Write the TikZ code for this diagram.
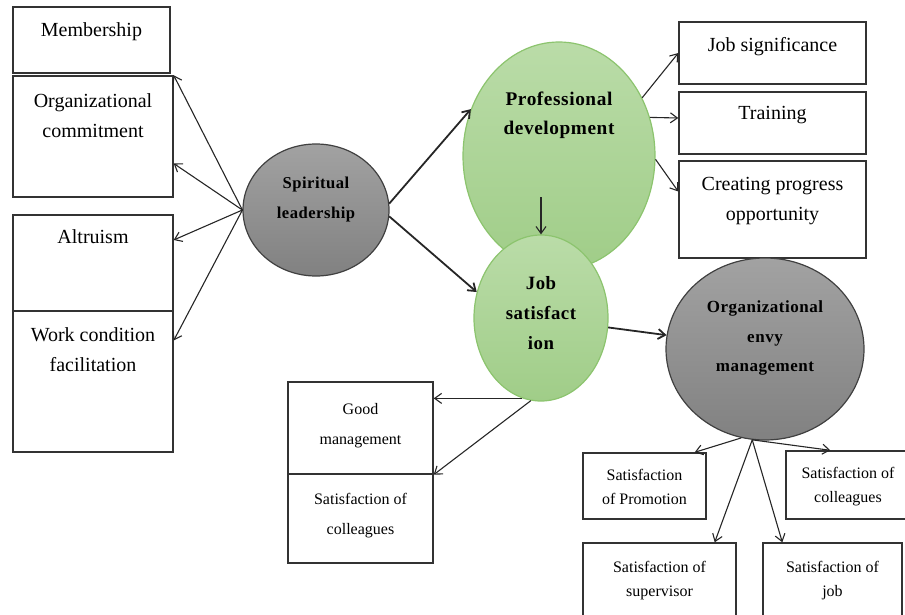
\documentclass[tikz,border=0pt]{standalone}
\usepackage{fontspec}
\setmainfont{Liberation Serif}
\newfontfamily\ellfont[LetterSpace=3]{Liberation Serif}
\usetikzlibrary{shapes.geometric,arrows.meta}

\definecolor{greytop}{HTML}{A2A2A2}
\definecolor{greybot}{HTML}{818181}
\definecolor{greentop}{HTML}{BADCA8}
\definecolor{greenbot}{HTML}{A0CD88}
\definecolor{greenline}{HTML}{8CC46E}

\newcommand\bigtxt{\fontsize{20}{30}\selectfont}
\newcommand\smalltxt{\fontsize{16}{30}\selectfont}
\newcommand\tinytxt{\fontsize{16}{24}\selectfont}

\tikzset{
  box/.style={rectangle, draw=black!80, line width=1.4pt, inner sep=0pt},
  boxtext/.style={anchor=north, inner sep=0pt, align=center, font=\bigtxt},
  smallboxtext/.style={boxtext, font=\smalltxt},
  tinyboxtext/.style={boxtext, font=\tinytxt},
  greyell/.style={ellipse, inner sep=0pt, draw=black!75, line width=1.2pt,
    top color=greytop, bottom color=greybot},
  greenell/.style={ellipse, inner sep=0pt, draw=greenline, line width=1.2pt,
    top color=greentop, bottom color=greenbot},
  elltext/.style={anchor=center, inner sep=0pt, align=center},
  arr/.style={-{Straight Barb[length=7pt,width=10pt]}, line width=1.1pt, draw=black!85},
  arrb/.style={arr, line width=1.8pt}
}

\begin{document}
\begin{tikzpicture}[x=1pt,y=-1pt]
\useasboundingbox (0,0) rectangle (905,615);

% left column
\node[box, minimum width=157, minimum height=66, label={[boxtext, yshift=-16pt]north:Membership}] (memb) at (91.5,40) {};
\node[box, minimum width=160, minimum height=121, label={[boxtext, yshift=-18pt]north:{Organizational\\commitment}}] (orgc) at (93,136.5) {};
\node[box, minimum width=160, minimum height=96, label={[boxtext, yshift=-15pt]north:Altruism}] (altru) at (93,263) {};
\node[box, minimum width=160, minimum height=141, label={[boxtext, yshift=-17pt]north:{Work condition\\facilitation}}] (work) at (93,381.5) {};

% right column
\node[box, minimum width=187, minimum height=62, label={[boxtext, yshift=-16pt]north:Job significance}] (jobsig) at (772.5,53) {};
\node[box, minimum width=187, minimum height=62, label={[boxtext, yshift=-15pt]north:Training}] (train) at (772.5,123) {};
\node[box, minimum width=187, minimum height=97, label={[boxtext, yshift=-17pt]north:{Creating progress\\opportunity}}] (creat) at (772.5,209.5) {};

% bottom left
\node[box, minimum width=145, minimum height=92, label={[smallboxtext, yshift=-22pt]north:{Good\\management}}] (good) at (360.5,428) {};
\node[box, minimum width=145, minimum height=89, label={[smallboxtext, yshift=-20pt]north:{Satisfaction of\\colleagues}}] (colb) at (360.5,518.5) {};

% bottom right
\node[box, minimum width=123, minimum height=66, label={[tinyboxtext, yshift=-17pt]north:{Satisfaction\\of Promotion}}] (promo) at (644.5,486) {};
\node[box, minimum width=124, minimum height=68, label={[tinyboxtext, yshift=-17pt]north:{Satisfaction of\\colleagues}}] (colr) at (848,485) {};
\node[box, minimum width=153, minimum height=97, label={[tinyboxtext, yshift=-19pt]north:{Satisfaction of\\supervisor}}] (sup) at (659.5,591.5) {};
\node[box, minimum width=139, minimum height=97, label={[tinyboxtext, yshift=-19pt]north:{Satisfaction of\\job}}] (jobb) at (832.5,591.5) {};

% ellipses
\node[greyell, minimum width=146, minimum height=132,
  label={[elltext, yshift=10pt, font=\ellfont\bfseries\fontsize{16.6}{30}\selectfont]center:{Spiritual\\leadership}}] (spirit) at (316,210) {};
\node[greenell, minimum width=192, minimum height=228,
  label={[elltext, yshift=41pt, font=\ellfont\bfseries\fontsize{19.3}{29}\selectfont]center:{Professional\\development}}] (prof) at (559,156) {};
\node[greenell, minimum width=134, minimum height=166,
  label={[elltext, yshift=5pt, font=\ellfont\bfseries\fontsize{18.8}{30}\selectfont]center:{Job\\satisfact\\ion}}] (jobsat) at (541,318) {};
\node[greyell, minimum width=198, minimum height=182,
  label={[elltext, yshift=11pt, font=\ellfont\bfseries\fontsize{17}{29.5}\selectfont]center:{Organizational\\envy\\management}}] (envy) at (765,349) {};

% connectors
\draw[arr] (spirit.west) -- (orgc.north east);
\draw[arr] (spirit.west) -- ([yshift=-27pt]orgc.east);
\draw[arr] (spirit.west) -- ([yshift=23pt]altru.east);
\draw[arr] (spirit.west) -- ([yshift=41pt]work.east);

\draw[arrb] (spirit.5) -- (prof.152);
\draw[arrb] (spirit.-5) -- (jobsat.158);

\draw[arr] (prof.35) -- (jobsig.west);
\draw[arr] (prof.23) -- ([yshift=5pt]train.west);
\draw[arr] (prof.-2) -- ([yshift=18pt]creat.west);

\draw[arr] ([yshift=37pt]jobsat.north) -- (jobsat.north);
\draw[arrb] (jobsat.-8) -- (envy.172);

\draw[arr] (jobsat.257) -- (jobsat.257 -| good.east);
\draw[arr] (jobsat.263) -- (good.south east);

\draw[arr] (envy.255) -- ([xshift=-12pt]promo.north east);
\draw[arr] (envy.262) -- ([xshift=45pt]colr.north west);
\draw[arr] (envy.262) -- ([xshift=-22pt]sup.north east);
\draw[arr] (envy.262) -- ([xshift=20pt]jobb.north west);

\end{tikzpicture}
\end{document}
